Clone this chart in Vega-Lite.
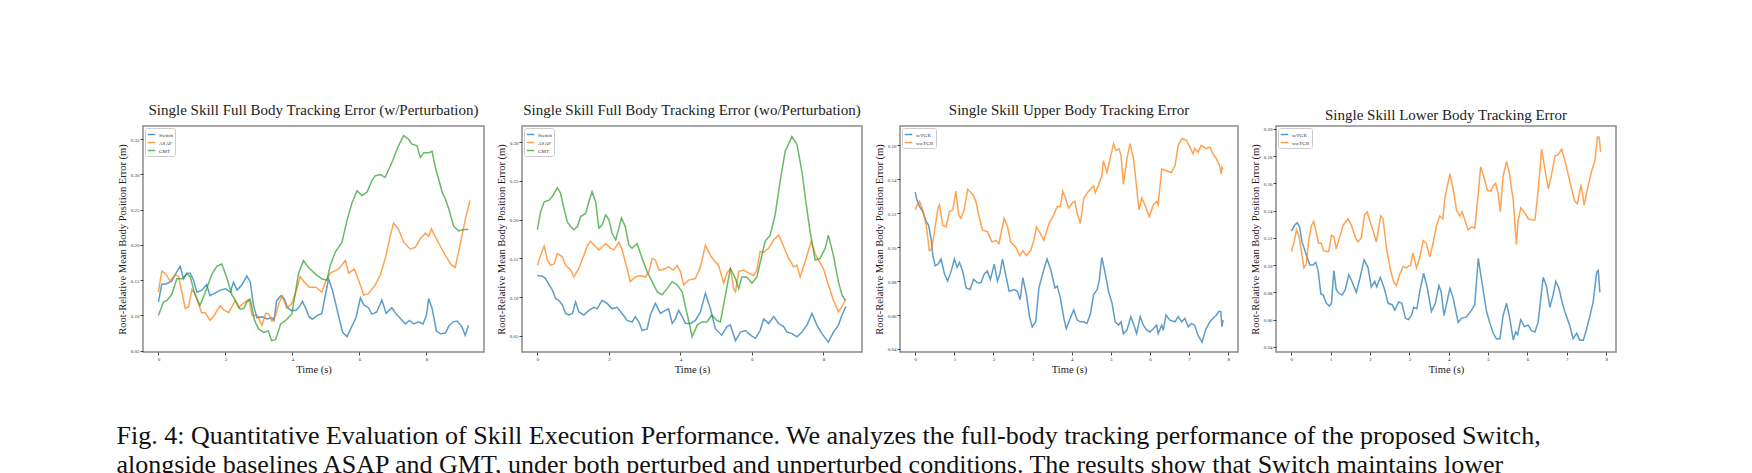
{
  "$schema": "https://vega.github.io/schema/vega-lite/v6.json",
  "padding": {"left": 116, "top": 102, "right": 10, "bottom": 0},
  "bounds": "flush",
  "spacing": 38,
  "resolve": {"scale": {"color": "independent", "x": "independent", "y": "independent"}, "legend": {"color": "independent"}},
  "title": {
    "text": [
      "Fig. 4: Quantitative Evaluation of Skill Execution Performance. We analyzes the full-body tracking performance of the proposed Switch,",
      "alongside baselines ASAP and GMT, under both perturbed and unperturbed conditions. The results show that Switch maintains lower"
    ],
    "orient": "bottom",
    "anchor": "start",
    "frame": "bounds",
    "offset": 48,
    "font": "Liberation Serif",
    "fontSize": 26,
    "lineHeight": 29,
    "fontWeight": "normal",
    "color": "#111111"
  },
  "config": {
    "view": {"stroke": "#8a8a8a", "strokeWidth": 1.5},
    "axis": {
      "domain": false, "grid": false, "ticks": true, "tickSize": 3, "tickColor": "#444444",
      "labelFont": "Liberation Serif", "labelFontSize": 5, "labelColor": "#333333", "labelPadding": 1,
      "titleFont": "Liberation Serif", "titleFontSize": 10.5, "titleFontWeight": "normal", "titleColor": "#222222", "titlePadding": 3
    },
    "title": {"font": "Liberation Serif", "fontSize": 15, "fontWeight": "normal", "color": "#222222", "offset": 8},
    "legend": {
      "orient": "top-left", "offset": 2, "title": null, "labelFont": "Liberation Serif", "labelFontSize": 5,
      "labelColor": "#333333", "symbolType": "stroke", "symbolSize": 56, "symbolStrokeWidth": 1.5,
      "symbolOpacity": 0.75, "strokeColor": "#cccccc", "fillColor": "#ffffff", "padding": 2, "rowPadding": 0,
      "labelOffset": 3, "cornerRadius": 2
    },
    "line": {"strokeWidth": 1.5, "opacity": 0.72}
  },
  "datasets": {
    "p1": [
      {"time":0,"error":0.119,"method":"Switch"},{"time":0.1,"error":0.144,"method":"Switch"},{"time":0.25,"error":0.145,"method":"Switch"},{"time":0.4,"error":0.149,"method":"Switch"},{"time":0.5,"error":0.158,"method":"Switch"},{"time":0.65,"error":0.17,"method":"Switch"},{"time":0.75,"error":0.152,"method":"Switch"},{"time":0.85,"error":0.16,"method":"Switch"},{"time":0.95,"error":0.16,"method":"Switch"},{"time":1.05,"error":0.15,"method":"Switch"},{"time":1.15,"error":0.133,"method":"Switch"},{"time":1.3,"error":0.136,"method":"Switch"},{"time":1.44,"error":0.144,"method":"Switch"},{"time":1.54,"error":0.128,"method":"Switch"},{"time":1.7,"error":0.132,"method":"Switch"},{"time":1.85,"error":0.136,"method":"Switch"},{"time":2.0,"error":0.138,"method":"Switch"},{"time":2.15,"error":0.133,"method":"Switch"},{"time":2.24,"error":0.147,"method":"Switch"},{"time":2.35,"error":0.136,"method":"Switch"},{"time":2.5,"error":0.144,"method":"Switch"},{"time":2.64,"error":0.156,"method":"Switch"},{"time":2.74,"error":0.148,"method":"Switch"},{"time":2.84,"error":0.114,"method":"Switch"},{"time":2.94,"error":0.097,"method":"Switch"},{"time":3.1,"error":0.098,"method":"Switch"},{"time":3.25,"error":0.095,"method":"Switch"},{"time":3.38,"error":0.097,"method":"Switch"},{"time":3.45,"error":0.093,"method":"Switch"},{"time":3.53,"error":0.121,"method":"Switch"},{"time":3.65,"error":0.128,"method":"Switch"},{"time":3.75,"error":0.124,"method":"Switch"},{"time":3.85,"error":0.112,"method":"Switch"},{"time":3.95,"error":0.107,"method":"Switch"},{"time":4.1,"error":0.107,"method":"Switch"},{"time":4.2,"error":0.112,"method":"Switch"},{"time":4.3,"error":0.12,"method":"Switch"},{"time":4.4,"error":0.11,"method":"Switch"},{"time":4.5,"error":0.098,"method":"Switch"},{"time":4.6,"error":0.095,"method":"Switch"},{"time":4.75,"error":0.1,"method":"Switch"},{"time":4.88,"error":0.103,"method":"Switch"},{"time":4.98,"error":0.128,"method":"Switch"},{"time":5.08,"error":0.152,"method":"Switch"},{"time":5.2,"error":0.135,"method":"Switch"},{"time":5.3,"error":0.115,"method":"Switch"},{"time":5.4,"error":0.095,"method":"Switch"},{"time":5.5,"error":0.076,"method":"Switch"},{"time":5.63,"error":0.07,"method":"Switch"},{"time":5.75,"error":0.082,"method":"Switch"},{"time":5.9,"error":0.097,"method":"Switch"},{"time":6.03,"error":0.125,"method":"Switch"},{"time":6.13,"error":0.115,"method":"Switch"},{"time":6.27,"error":0.111,"method":"Switch"},{"time":6.37,"error":0.102,"method":"Switch"},{"time":6.52,"error":0.105,"method":"Switch"},{"time":6.67,"error":0.122,"method":"Switch"},{"time":6.8,"error":0.103,"method":"Switch"},{"time":6.97,"error":0.111,"method":"Switch"},{"time":7.1,"error":0.102,"method":"Switch"},{"time":7.22,"error":0.096,"method":"Switch"},{"time":7.37,"error":0.088,"method":"Switch"},{"time":7.5,"error":0.093,"method":"Switch"},{"time":7.62,"error":0.088,"method":"Switch"},{"time":7.77,"error":0.091,"method":"Switch"},{"time":7.9,"error":0.088,"method":"Switch"},{"time":8.0,"error":0.1,"method":"Switch"},{"time":8.07,"error":0.124,"method":"Switch"},{"time":8.17,"error":0.11,"method":"Switch"},{"time":8.3,"error":0.078,"method":"Switch"},{"time":8.42,"error":0.074,"method":"Switch"},{"time":8.57,"error":0.075,"method":"Switch"},{"time":8.67,"error":0.085,"method":"Switch"},{"time":8.8,"error":0.091,"method":"Switch"},{"time":8.92,"error":0.092,"method":"Switch"},{"time":9.06,"error":0.084,"method":"Switch"},{"time":9.16,"error":0.072,"method":"Switch"},{"time":9.26,"error":0.086,"method":"Switch"},
      {"time":0,"error":0.133,"method":"ASAP"},{"time":0.1,"error":0.163,"method":"ASAP"},{"time":0.2,"error":0.16,"method":"ASAP"},{"time":0.35,"error":0.149,"method":"ASAP"},{"time":0.5,"error":0.158,"method":"ASAP"},{"time":0.6,"error":0.156,"method":"ASAP"},{"time":0.7,"error":0.133,"method":"ASAP"},{"time":0.8,"error":0.11,"method":"ASAP"},{"time":0.9,"error":0.112,"method":"ASAP"},{"time":1.0,"error":0.137,"method":"ASAP"},{"time":1.1,"error":0.13,"method":"ASAP"},{"time":1.29,"error":0.104,"method":"ASAP"},{"time":1.4,"error":0.104,"method":"ASAP"},{"time":1.54,"error":0.093,"method":"ASAP"},{"time":1.65,"error":0.099,"method":"ASAP"},{"time":1.84,"error":0.114,"method":"ASAP"},{"time":1.95,"error":0.108,"method":"ASAP"},{"time":2.1,"error":0.104,"method":"ASAP"},{"time":2.29,"error":0.121,"method":"ASAP"},{"time":2.4,"error":0.111,"method":"ASAP"},{"time":2.55,"error":0.118,"method":"ASAP"},{"time":2.7,"error":0.123,"method":"ASAP"},{"time":2.8,"error":0.1,"method":"ASAP"},{"time":2.95,"error":0.1,"method":"ASAP"},{"time":3.09,"error":0.086,"method":"ASAP"},{"time":3.2,"error":0.103,"method":"ASAP"},{"time":3.3,"error":0.102,"method":"ASAP"},{"time":3.39,"error":0.092,"method":"ASAP"},{"time":3.5,"error":0.1,"method":"ASAP"},{"time":3.6,"error":0.118,"method":"ASAP"},{"time":3.7,"error":0.128,"method":"ASAP"},{"time":3.83,"error":0.11,"method":"ASAP"},{"time":3.98,"error":0.117,"method":"ASAP"},{"time":4.1,"error":0.133,"method":"ASAP"},{"time":4.23,"error":0.155,"method":"ASAP"},{"time":4.35,"error":0.148,"method":"ASAP"},{"time":4.5,"error":0.14,"method":"ASAP"},{"time":4.7,"error":0.14,"method":"ASAP"},{"time":4.88,"error":0.133,"method":"ASAP"},{"time":4.98,"error":0.147,"method":"ASAP"},{"time":5.13,"error":0.16,"method":"ASAP"},{"time":5.38,"error":0.166,"method":"ASAP"},{"time":5.58,"error":0.178,"method":"ASAP"},{"time":5.68,"error":0.16,"method":"ASAP"},{"time":5.85,"error":0.166,"method":"ASAP"},{"time":6.03,"error":0.143,"method":"ASAP"},{"time":6.13,"error":0.129,"method":"ASAP"},{"time":6.27,"error":0.131,"method":"ASAP"},{"time":6.47,"error":0.143,"method":"ASAP"},{"time":6.62,"error":0.157,"method":"ASAP"},{"time":6.77,"error":0.18,"method":"ASAP"},{"time":6.92,"error":0.213,"method":"ASAP"},{"time":7.02,"error":0.231,"method":"ASAP"},{"time":7.17,"error":0.222,"method":"ASAP"},{"time":7.32,"error":0.204,"method":"ASAP"},{"time":7.52,"error":0.194,"method":"ASAP"},{"time":7.67,"error":0.197,"method":"ASAP"},{"time":7.82,"error":0.209,"method":"ASAP"},{"time":7.97,"error":0.217,"method":"ASAP"},{"time":8.07,"error":0.212,"method":"ASAP"},{"time":8.15,"error":0.223,"method":"ASAP"},{"time":8.25,"error":0.213,"method":"ASAP"},{"time":8.4,"error":0.2,"method":"ASAP"},{"time":8.57,"error":0.185,"method":"ASAP"},{"time":8.76,"error":0.171,"method":"ASAP"},{"time":8.86,"error":0.168,"method":"ASAP"},{"time":8.96,"error":0.19,"method":"ASAP"},{"time":9.06,"error":0.213,"method":"ASAP"},{"time":9.18,"error":0.24,"method":"ASAP"},{"time":9.3,"error":0.263,"method":"ASAP"},
      {"time":0,"error":0.1,"method":"GMT"},{"time":0.15,"error":0.119,"method":"GMT"},{"time":0.25,"error":0.121,"method":"GMT"},{"time":0.4,"error":0.13,"method":"GMT"},{"time":0.55,"error":0.152,"method":"GMT"},{"time":0.7,"error":0.152,"method":"GMT"},{"time":0.85,"error":0.159,"method":"GMT"},{"time":0.95,"error":0.155,"method":"GMT"},{"time":1.09,"error":0.13,"method":"GMT"},{"time":1.24,"error":0.114,"method":"GMT"},{"time":1.4,"error":0.133,"method":"GMT"},{"time":1.6,"error":0.159,"method":"GMT"},{"time":1.75,"error":0.17,"method":"GMT"},{"time":1.89,"error":0.173,"method":"GMT"},{"time":2.04,"error":0.154,"method":"GMT"},{"time":2.19,"error":0.13,"method":"GMT"},{"time":2.3,"error":0.121,"method":"GMT"},{"time":2.44,"error":0.109,"method":"GMT"},{"time":2.55,"error":0.11,"method":"GMT"},{"time":2.64,"error":0.119,"method":"GMT"},{"time":2.74,"error":0.123,"method":"GMT"},{"time":2.87,"error":0.093,"method":"GMT"},{"time":2.99,"error":0.081,"method":"GMT"},{"time":3.14,"error":0.076,"method":"GMT"},{"time":3.28,"error":0.078,"method":"GMT"},{"time":3.38,"error":0.064,"method":"GMT"},{"time":3.5,"error":0.066,"method":"GMT"},{"time":3.65,"error":0.088,"method":"GMT"},{"time":3.8,"error":0.093,"method":"GMT"},{"time":3.98,"error":0.102,"method":"GMT"},{"time":4.08,"error":0.13,"method":"GMT"},{"time":4.18,"error":0.159,"method":"GMT"},{"time":4.33,"error":0.178,"method":"GMT"},{"time":4.48,"error":0.168,"method":"GMT"},{"time":4.68,"error":0.159,"method":"GMT"},{"time":4.88,"error":0.152,"method":"GMT"},{"time":5.03,"error":0.15,"method":"GMT"},{"time":5.13,"error":0.171,"method":"GMT"},{"time":5.28,"error":0.19,"method":"GMT"},{"time":5.48,"error":0.204,"method":"GMT"},{"time":5.63,"error":0.235,"method":"GMT"},{"time":5.78,"error":0.26,"method":"GMT"},{"time":5.93,"error":0.277,"method":"GMT"},{"time":6.08,"error":0.27,"method":"GMT"},{"time":6.23,"error":0.275,"method":"GMT"},{"time":6.37,"error":0.291,"method":"GMT"},{"time":6.47,"error":0.298,"method":"GMT"},{"time":6.62,"error":0.3,"method":"GMT"},{"time":6.77,"error":0.296,"method":"GMT"},{"time":6.97,"error":0.317,"method":"GMT"},{"time":7.17,"error":0.341,"method":"GMT"},{"time":7.32,"error":0.355,"method":"GMT"},{"time":7.47,"error":0.35,"method":"GMT"},{"time":7.57,"error":0.343,"method":"GMT"},{"time":7.72,"error":0.341,"method":"GMT"},{"time":7.82,"error":0.324,"method":"GMT"},{"time":7.92,"error":0.331,"method":"GMT"},{"time":8.07,"error":0.331,"method":"GMT"},{"time":8.17,"error":0.333,"method":"GMT"},{"time":8.27,"error":0.31,"method":"GMT"},{"time":8.37,"error":0.293,"method":"GMT"},{"time":8.47,"error":0.275,"method":"GMT"},{"time":8.57,"error":0.265,"method":"GMT"},{"time":8.67,"error":0.251,"method":"GMT"},{"time":8.81,"error":0.227,"method":"GMT"},{"time":8.96,"error":0.22,"method":"GMT"},{"time":9.11,"error":0.222,"method":"GMT"},{"time":9.26,"error":0.222,"method":"GMT"}
    ],
    "p2": [
      {"time":0,"error":0.128,"method":"Switch"},{"time":0.14,"error":0.127,"method":"Switch"},{"time":0.23,"error":0.124,"method":"Switch"},{"time":0.33,"error":0.116,"method":"Switch"},{"time":0.42,"error":0.109,"method":"Switch"},{"time":0.51,"error":0.098,"method":"Switch"},{"time":0.6,"error":0.096,"method":"Switch"},{"time":0.7,"error":0.09,"method":"Switch"},{"time":0.79,"error":0.079,"method":"Switch"},{"time":0.88,"error":0.077,"method":"Switch"},{"time":0.98,"error":0.079,"method":"Switch"},{"time":1.07,"error":0.094,"method":"Switch"},{"time":1.16,"error":0.081,"method":"Switch"},{"time":1.3,"error":0.077,"method":"Switch"},{"time":1.44,"error":0.083,"method":"Switch"},{"time":1.58,"error":0.087,"method":"Switch"},{"time":1.67,"error":0.085,"method":"Switch"},{"time":1.81,"error":0.096,"method":"Switch"},{"time":1.95,"error":0.092,"method":"Switch"},{"time":2.09,"error":0.085,"method":"Switch"},{"time":2.23,"error":0.087,"method":"Switch"},{"time":2.37,"error":0.079,"method":"Switch"},{"time":2.51,"error":0.07,"method":"Switch"},{"time":2.65,"error":0.068,"method":"Switch"},{"time":2.74,"error":0.075,"method":"Switch"},{"time":2.84,"error":0.068,"method":"Switch"},{"time":2.93,"error":0.057,"method":"Switch"},{"time":3.07,"error":0.059,"method":"Switch"},{"time":3.16,"error":0.077,"method":"Switch"},{"time":3.3,"error":0.092,"method":"Switch"},{"time":3.44,"error":0.079,"method":"Switch"},{"time":3.58,"error":0.083,"method":"Switch"},{"time":3.67,"error":0.085,"method":"Switch"},{"time":3.77,"error":0.066,"method":"Switch"},{"time":3.86,"error":0.072,"method":"Switch"},{"time":3.95,"error":0.083,"method":"Switch"},{"time":4.05,"error":0.075,"method":"Switch"},{"time":4.14,"error":0.066,"method":"Switch"},{"time":4.28,"error":0.066,"method":"Switch"},{"time":4.42,"error":0.07,"method":"Switch"},{"time":4.56,"error":0.081,"method":"Switch"},{"time":4.7,"error":0.105,"method":"Switch"},{"time":4.84,"error":0.085,"method":"Switch"},{"time":4.98,"error":0.059,"method":"Switch"},{"time":5.16,"error":0.051,"method":"Switch"},{"time":5.3,"error":0.062,"method":"Switch"},{"time":5.4,"error":0.064,"method":"Switch"},{"time":5.54,"error":0.044,"method":"Switch"},{"time":5.68,"error":0.055,"method":"Switch"},{"time":5.82,"error":0.057,"method":"Switch"},{"time":5.96,"error":0.051,"method":"Switch"},{"time":6.1,"error":0.047,"method":"Switch"},{"time":6.23,"error":0.057,"method":"Switch"},{"time":6.33,"error":0.072,"method":"Switch"},{"time":6.47,"error":0.066,"method":"Switch"},{"time":6.61,"error":0.075,"method":"Switch"},{"time":6.75,"error":0.066,"method":"Switch"},{"time":6.89,"error":0.062,"method":"Switch"},{"time":6.98,"error":0.055,"method":"Switch"},{"time":7.12,"error":0.053,"method":"Switch"},{"time":7.26,"error":0.049,"method":"Switch"},{"time":7.4,"error":0.055,"method":"Switch"},{"time":7.54,"error":0.064,"method":"Switch"},{"time":7.68,"error":0.079,"method":"Switch"},{"time":7.82,"error":0.064,"method":"Switch"},{"time":7.96,"error":0.053,"method":"Switch"},{"time":8.14,"error":0.042,"method":"Switch"},{"time":8.28,"error":0.055,"method":"Switch"},{"time":8.42,"error":0.064,"method":"Switch"},{"time":8.52,"error":0.077,"method":"Switch"},{"time":8.63,"error":0.088,"method":"Switch"},
      {"time":0,"error":0.141,"method":"ASAP"},{"time":0.09,"error":0.154,"method":"ASAP"},{"time":0.19,"error":0.166,"method":"ASAP"},{"time":0.28,"error":0.148,"method":"ASAP"},{"time":0.37,"error":0.141,"method":"ASAP"},{"time":0.47,"error":0.143,"method":"ASAP"},{"time":0.56,"error":0.156,"method":"ASAP"},{"time":0.7,"error":0.152,"method":"ASAP"},{"time":0.79,"error":0.141,"method":"ASAP"},{"time":0.93,"error":0.135,"method":"ASAP"},{"time":1.02,"error":0.126,"method":"ASAP"},{"time":1.16,"error":0.137,"method":"ASAP"},{"time":1.3,"error":0.154,"method":"ASAP"},{"time":1.4,"error":0.167,"method":"ASAP"},{"time":1.49,"error":0.172,"method":"ASAP"},{"time":1.63,"error":0.165,"method":"ASAP"},{"time":1.72,"error":0.161,"method":"ASAP"},{"time":1.86,"error":0.167,"method":"ASAP"},{"time":1.91,"error":0.169,"method":"ASAP"},{"time":2.05,"error":0.163,"method":"ASAP"},{"time":2.14,"error":0.161,"method":"ASAP"},{"time":2.28,"error":0.171,"method":"ASAP"},{"time":2.37,"error":0.161,"method":"ASAP"},{"time":2.51,"error":0.137,"method":"ASAP"},{"time":2.6,"error":0.12,"method":"ASAP"},{"time":2.74,"error":0.126,"method":"ASAP"},{"time":2.88,"error":0.128,"method":"ASAP"},{"time":3.02,"error":0.126,"method":"ASAP"},{"time":3.12,"error":0.133,"method":"ASAP"},{"time":3.21,"error":0.15,"method":"ASAP"},{"time":3.3,"error":0.148,"method":"ASAP"},{"time":3.4,"error":0.135,"method":"ASAP"},{"time":3.49,"error":0.135,"method":"ASAP"},{"time":3.58,"error":0.137,"method":"ASAP"},{"time":3.67,"error":0.139,"method":"ASAP"},{"time":3.81,"error":0.135,"method":"ASAP"},{"time":3.91,"error":0.141,"method":"ASAP"},{"time":4.0,"error":0.133,"method":"ASAP"},{"time":4.09,"error":0.116,"method":"ASAP"},{"time":4.23,"error":0.122,"method":"ASAP"},{"time":4.42,"error":0.124,"method":"ASAP"},{"time":4.56,"error":0.139,"method":"ASAP"},{"time":4.7,"error":0.167,"method":"ASAP"},{"time":4.84,"error":0.154,"method":"ASAP"},{"time":4.93,"error":0.148,"method":"ASAP"},{"time":5.07,"error":0.141,"method":"ASAP"},{"time":5.21,"error":0.118,"method":"ASAP"},{"time":5.3,"error":0.131,"method":"ASAP"},{"time":5.4,"error":0.137,"method":"ASAP"},{"time":5.49,"error":0.111,"method":"ASAP"},{"time":5.54,"error":0.107,"method":"ASAP"},{"time":5.63,"error":0.133,"method":"ASAP"},{"time":5.77,"error":0.135,"method":"ASAP"},{"time":5.91,"error":0.131,"method":"ASAP"},{"time":6.05,"error":0.128,"method":"ASAP"},{"time":6.14,"error":0.135,"method":"ASAP"},{"time":6.23,"error":0.159,"method":"ASAP"},{"time":6.33,"error":0.158,"method":"ASAP"},{"time":6.47,"error":0.163,"method":"ASAP"},{"time":6.61,"error":0.174,"method":"ASAP"},{"time":6.75,"error":0.18,"method":"ASAP"},{"time":6.89,"error":0.165,"method":"ASAP"},{"time":7.03,"error":0.15,"method":"ASAP"},{"time":7.17,"error":0.139,"method":"ASAP"},{"time":7.26,"error":0.141,"method":"ASAP"},{"time":7.35,"error":0.126,"method":"ASAP"},{"time":7.49,"error":0.146,"method":"ASAP"},{"time":7.66,"error":0.172,"method":"ASAP"},{"time":7.77,"error":0.156,"method":"ASAP"},{"time":7.86,"error":0.148,"method":"ASAP"},{"time":8.0,"error":0.137,"method":"ASAP"},{"time":8.14,"error":0.116,"method":"ASAP"},{"time":8.28,"error":0.096,"method":"ASAP"},{"time":8.42,"error":0.081,"method":"ASAP"},{"time":8.52,"error":0.088,"method":"ASAP"},{"time":8.63,"error":0.098,"method":"ASAP"},
      {"time":0,"error":0.187,"method":"GMT"},{"time":0.09,"error":0.21,"method":"GMT"},{"time":0.19,"error":0.223,"method":"GMT"},{"time":0.33,"error":0.225,"method":"GMT"},{"time":0.42,"error":0.23,"method":"GMT"},{"time":0.56,"error":0.241,"method":"GMT"},{"time":0.65,"error":0.234,"method":"GMT"},{"time":0.74,"error":0.215,"method":"GMT"},{"time":0.84,"error":0.197,"method":"GMT"},{"time":0.93,"error":0.191,"method":"GMT"},{"time":1.02,"error":0.187,"method":"GMT"},{"time":1.12,"error":0.191,"method":"GMT"},{"time":1.21,"error":0.204,"method":"GMT"},{"time":1.35,"error":0.208,"method":"GMT"},{"time":1.44,"error":0.223,"method":"GMT"},{"time":1.53,"error":0.236,"method":"GMT"},{"time":1.63,"error":0.223,"method":"GMT"},{"time":1.72,"error":0.189,"method":"GMT"},{"time":1.81,"error":0.193,"method":"GMT"},{"time":1.91,"error":0.206,"method":"GMT"},{"time":2.0,"error":0.2,"method":"GMT"},{"time":2.09,"error":0.182,"method":"GMT"},{"time":2.19,"error":0.174,"method":"GMT"},{"time":2.28,"error":0.189,"method":"GMT"},{"time":2.35,"error":0.202,"method":"GMT"},{"time":2.46,"error":0.191,"method":"GMT"},{"time":2.56,"error":0.167,"method":"GMT"},{"time":2.65,"error":0.163,"method":"GMT"},{"time":2.79,"error":0.169,"method":"GMT"},{"time":2.93,"error":0.15,"method":"GMT"},{"time":3.07,"error":0.133,"method":"GMT"},{"time":3.21,"error":0.12,"method":"GMT"},{"time":3.35,"error":0.107,"method":"GMT"},{"time":3.49,"error":0.103,"method":"GMT"},{"time":3.63,"error":0.111,"method":"GMT"},{"time":3.77,"error":0.12,"method":"GMT"},{"time":3.91,"error":0.116,"method":"GMT"},{"time":4.05,"error":0.107,"method":"GMT"},{"time":4.14,"error":0.088,"method":"GMT"},{"time":4.24,"error":0.068,"method":"GMT"},{"time":4.33,"error":0.049,"method":"GMT"},{"time":4.47,"error":0.064,"method":"GMT"},{"time":4.6,"error":0.068,"method":"GMT"},{"time":4.74,"error":0.068,"method":"GMT"},{"time":4.88,"error":0.077,"method":"GMT"},{"time":5.02,"error":0.07,"method":"GMT"},{"time":5.12,"error":0.068,"method":"GMT"},{"time":5.26,"error":0.103,"method":"GMT"},{"time":5.4,"error":0.137,"method":"GMT"},{"time":5.54,"error":0.124,"method":"GMT"},{"time":5.63,"error":0.111,"method":"GMT"},{"time":5.72,"error":0.126,"method":"GMT"},{"time":5.86,"error":0.126,"method":"GMT"},{"time":6.0,"error":0.118,"method":"GMT"},{"time":6.14,"error":0.126,"method":"GMT"},{"time":6.28,"error":0.154,"method":"GMT"},{"time":6.37,"error":0.172,"method":"GMT"},{"time":6.51,"error":0.18,"method":"GMT"},{"time":6.65,"error":0.206,"method":"GMT"},{"time":6.79,"error":0.249,"method":"GMT"},{"time":6.93,"error":0.288,"method":"GMT"},{"time":7.12,"error":0.307,"method":"GMT"},{"time":7.26,"error":0.297,"method":"GMT"},{"time":7.4,"error":0.262,"method":"GMT"},{"time":7.51,"error":0.223,"method":"GMT"},{"time":7.63,"error":0.184,"method":"GMT"},{"time":7.77,"error":0.148,"method":"GMT"},{"time":7.91,"error":0.15,"method":"GMT"},{"time":8.05,"error":0.163,"method":"GMT"},{"time":8.14,"error":0.18,"method":"GMT"},{"time":8.28,"error":0.154,"method":"GMT"},{"time":8.42,"error":0.12,"method":"GMT"},{"time":8.52,"error":0.103,"method":"GMT"},{"time":8.61,"error":0.096,"method":"GMT"}
    ],
    "p3": [
      {"time":0,"error":0.1324,"method":"w/FGR"},{"time":0.04,"error":0.128,"method":"w/FGR"},{"time":0.11,"error":0.124,"method":"w/FGR"},{"time":0.19,"error":0.121,"method":"w/FGR"},{"time":0.28,"error":0.115,"method":"w/FGR"},{"time":0.34,"error":0.113,"method":"w/FGR"},{"time":0.41,"error":0.104,"method":"w/FGR"},{"time":0.45,"error":0.095,"method":"w/FGR"},{"time":0.51,"error":0.089,"method":"w/FGR"},{"time":0.58,"error":0.09,"method":"w/FGR"},{"time":0.66,"error":0.093,"method":"w/FGR"},{"time":0.75,"error":0.084,"method":"w/FGR"},{"time":0.83,"error":0.08,"method":"w/FGR"},{"time":0.92,"error":0.086,"method":"w/FGR"},{"time":1.0,"error":0.093,"method":"w/FGR"},{"time":1.07,"error":0.088,"method":"w/FGR"},{"time":1.13,"error":0.091,"method":"w/FGR"},{"time":1.21,"error":0.086,"method":"w/FGR"},{"time":1.3,"error":0.076,"method":"w/FGR"},{"time":1.4,"error":0.075,"method":"w/FGR"},{"time":1.49,"error":0.081,"method":"w/FGR"},{"time":1.59,"error":0.079,"method":"w/FGR"},{"time":1.68,"error":0.079,"method":"w/FGR"},{"time":1.76,"error":0.084,"method":"w/FGR"},{"time":1.84,"error":0.086,"method":"w/FGR"},{"time":1.92,"error":0.081,"method":"w/FGR"},{"time":2.02,"error":0.09,"method":"w/FGR"},{"time":2.1,"error":0.08,"method":"w/FGR"},{"time":2.16,"error":0.084,"method":"w/FGR"},{"time":2.23,"error":0.093,"method":"w/FGR"},{"time":2.31,"error":0.084,"method":"w/FGR"},{"time":2.4,"error":0.074,"method":"w/FGR"},{"time":2.53,"error":0.075,"method":"w/FGR"},{"time":2.61,"error":0.074,"method":"w/FGR"},{"time":2.68,"error":0.069,"method":"w/FGR"},{"time":2.75,"error":0.082,"method":"w/FGR"},{"time":2.84,"error":0.072,"method":"w/FGR"},{"time":2.92,"error":0.059,"method":"w/FGR"},{"time":2.99,"error":0.053,"method":"w/FGR"},{"time":3.08,"error":0.056,"method":"w/FGR"},{"time":3.16,"error":0.076,"method":"w/FGR"},{"time":3.29,"error":0.087,"method":"w/FGR"},{"time":3.37,"error":0.093,"method":"w/FGR"},{"time":3.46,"error":0.087,"method":"w/FGR"},{"time":3.57,"error":0.076,"method":"w/FGR"},{"time":3.63,"error":0.077,"method":"w/FGR"},{"time":3.71,"error":0.07,"method":"w/FGR"},{"time":3.8,"error":0.058,"method":"w/FGR"},{"time":3.86,"error":0.052,"method":"w/FGR"},{"time":3.96,"error":0.058,"method":"w/FGR"},{"time":4.05,"error":0.063,"method":"w/FGR"},{"time":4.14,"error":0.057,"method":"w/FGR"},{"time":4.22,"error":0.056,"method":"w/FGR"},{"time":4.31,"error":0.056,"method":"w/FGR"},{"time":4.39,"error":0.055,"method":"w/FGR"},{"time":4.48,"error":0.061,"method":"w/FGR"},{"time":4.56,"error":0.072,"method":"w/FGR"},{"time":4.65,"error":0.075,"method":"w/FGR"},{"time":4.7,"error":0.08,"method":"w/FGR"},{"time":4.77,"error":0.094,"method":"w/FGR"},{"time":4.86,"error":0.084,"method":"w/FGR"},{"time":4.94,"error":0.074,"method":"w/FGR"},{"time":5.03,"error":0.067,"method":"w/FGR"},{"time":5.11,"error":0.056,"method":"w/FGR"},{"time":5.2,"error":0.054,"method":"w/FGR"},{"time":5.26,"error":0.056,"method":"w/FGR"},{"time":5.32,"error":0.049,"method":"w/FGR"},{"time":5.41,"error":0.051,"method":"w/FGR"},{"time":5.51,"error":0.059,"method":"w/FGR"},{"time":5.59,"error":0.054,"method":"w/FGR"},{"time":5.66,"error":0.049,"method":"w/FGR"},{"time":5.75,"error":0.059,"method":"w/FGR"},{"time":5.83,"error":0.054,"method":"w/FGR"},{"time":5.92,"error":0.051,"method":"w/FGR"},{"time":6.0,"error":0.05,"method":"w/FGR"},{"time":6.09,"error":0.052,"method":"w/FGR"},{"time":6.17,"error":0.054,"method":"w/FGR"},{"time":6.21,"error":0.049,"method":"w/FGR"},{"time":6.3,"error":0.054,"method":"w/FGR"},{"time":6.34,"error":0.051,"method":"w/FGR"},{"time":6.41,"error":0.06,"method":"w/FGR"},{"time":6.51,"error":0.057,"method":"w/FGR"},{"time":6.64,"error":0.056,"method":"w/FGR"},{"time":6.72,"error":0.059,"method":"w/FGR"},{"time":6.81,"error":0.056,"method":"w/FGR"},{"time":6.89,"error":0.058,"method":"w/FGR"},{"time":6.98,"error":0.053,"method":"w/FGR"},{"time":7.06,"error":0.055,"method":"w/FGR"},{"time":7.14,"error":0.054,"method":"w/FGR"},{"time":7.23,"error":0.048,"method":"w/FGR"},{"time":7.33,"error":0.044,"method":"w/FGR"},{"time":7.42,"error":0.051,"method":"w/FGR"},{"time":7.53,"error":0.056,"method":"w/FGR"},{"time":7.61,"error":0.058,"method":"w/FGR"},{"time":7.7,"error":0.06,"method":"w/FGR"},{"time":7.76,"error":0.062,"method":"w/FGR"},{"time":7.81,"error":0.062,"method":"w/FGR"},{"time":7.84,"error":0.053,"method":"w/FGR"},{"time":7.87,"error":0.057,"method":"w/FGR"},
      {"time":0,"error":0.122,"method":"wo/FGR"},{"time":0.07,"error":0.126,"method":"wo/FGR"},{"time":0.11,"error":0.127,"method":"wo/FGR"},{"time":0.19,"error":0.122,"method":"wo/FGR"},{"time":0.28,"error":0.113,"method":"wo/FGR"},{"time":0.36,"error":0.098,"method":"wo/FGR"},{"time":0.42,"error":0.099,"method":"wo/FGR"},{"time":0.49,"error":0.109,"method":"wo/FGR"},{"time":0.58,"error":0.123,"method":"wo/FGR"},{"time":0.62,"error":0.125,"method":"wo/FGR"},{"time":0.7,"error":0.113,"method":"wo/FGR"},{"time":0.79,"error":0.112,"method":"wo/FGR"},{"time":0.87,"error":0.121,"method":"wo/FGR"},{"time":0.96,"error":0.122,"method":"wo/FGR"},{"time":1.04,"error":0.133,"method":"wo/FGR"},{"time":1.11,"error":0.119,"method":"wo/FGR"},{"time":1.17,"error":0.117,"method":"wo/FGR"},{"time":1.25,"error":0.122,"method":"wo/FGR"},{"time":1.34,"error":0.134,"method":"wo/FGR"},{"time":1.47,"error":0.131,"method":"wo/FGR"},{"time":1.55,"error":0.127,"method":"wo/FGR"},{"time":1.64,"error":0.117,"method":"wo/FGR"},{"time":1.72,"error":0.11,"method":"wo/FGR"},{"time":1.85,"error":0.109,"method":"wo/FGR"},{"time":1.96,"error":0.103,"method":"wo/FGR"},{"time":2.06,"error":0.104,"method":"wo/FGR"},{"time":2.14,"error":0.102,"method":"wo/FGR"},{"time":2.27,"error":0.117,"method":"wo/FGR"},{"time":2.36,"error":0.112,"method":"wo/FGR"},{"time":2.44,"error":0.103,"method":"wo/FGR"},{"time":2.57,"error":0.1,"method":"wo/FGR"},{"time":2.67,"error":0.095,"method":"wo/FGR"},{"time":2.75,"error":0.098,"method":"wo/FGR"},{"time":2.84,"error":0.095,"method":"wo/FGR"},{"time":2.95,"error":0.098,"method":"wo/FGR"},{"time":3.03,"error":0.104,"method":"wo/FGR"},{"time":3.1,"error":0.112,"method":"wo/FGR"},{"time":3.2,"error":0.108,"method":"wo/FGR"},{"time":3.29,"error":0.104,"method":"wo/FGR"},{"time":3.42,"error":0.114,"method":"wo/FGR"},{"time":3.54,"error":0.119,"method":"wo/FGR"},{"time":3.63,"error":0.124,"method":"wo/FGR"},{"time":3.71,"error":0.124,"method":"wo/FGR"},{"time":3.77,"error":0.133,"method":"wo/FGR"},{"time":3.84,"error":0.129,"method":"wo/FGR"},{"time":3.92,"error":0.123,"method":"wo/FGR"},{"time":4.01,"error":0.126,"method":"wo/FGR"},{"time":4.08,"error":0.127,"method":"wo/FGR"},{"time":4.14,"error":0.12,"method":"wo/FGR"},{"time":4.22,"error":0.114,"method":"wo/FGR"},{"time":4.31,"error":0.129,"method":"wo/FGR"},{"time":4.43,"error":0.133,"method":"wo/FGR"},{"time":4.56,"error":0.136,"method":"wo/FGR"},{"time":4.6,"error":0.132,"method":"wo/FGR"},{"time":4.69,"error":0.137,"method":"wo/FGR"},{"time":4.77,"error":0.142,"method":"wo/FGR"},{"time":4.81,"error":0.151,"method":"wo/FGR"},{"time":4.9,"error":0.144,"method":"wo/FGR"},{"time":4.98,"error":0.152,"method":"wo/FGR"},{"time":5.07,"error":0.161,"method":"wo/FGR"},{"time":5.13,"error":0.157,"method":"wo/FGR"},{"time":5.21,"error":0.158,"method":"wo/FGR"},{"time":5.26,"error":0.154,"method":"wo/FGR"},{"time":5.32,"error":0.137,"method":"wo/FGR"},{"time":5.41,"error":0.152,"method":"wo/FGR"},{"time":5.49,"error":0.161,"method":"wo/FGR"},{"time":5.58,"error":0.152,"method":"wo/FGR"},{"time":5.66,"error":0.135,"method":"wo/FGR"},{"time":5.72,"error":0.122,"method":"wo/FGR"},{"time":5.79,"error":0.129,"method":"wo/FGR"},{"time":5.87,"error":0.125,"method":"wo/FGR"},{"time":5.98,"error":0.118,"method":"wo/FGR"},{"time":6.09,"error":0.125,"method":"wo/FGR"},{"time":6.17,"error":0.127,"method":"wo/FGR"},{"time":6.21,"error":0.125,"method":"wo/FGR"},{"time":6.3,"error":0.146,"method":"wo/FGR"},{"time":6.42,"error":0.145,"method":"wo/FGR"},{"time":6.55,"error":0.144,"method":"wo/FGR"},{"time":6.64,"error":0.148,"method":"wo/FGR"},{"time":6.72,"error":0.16,"method":"wo/FGR"},{"time":6.82,"error":0.164,"method":"wo/FGR"},{"time":6.93,"error":0.163,"method":"wo/FGR"},{"time":7.02,"error":0.159,"method":"wo/FGR"},{"time":7.1,"error":0.155,"method":"wo/FGR"},{"time":7.14,"error":0.158,"method":"wo/FGR"},{"time":7.23,"error":0.156,"method":"wo/FGR"},{"time":7.31,"error":0.16,"method":"wo/FGR"},{"time":7.44,"error":0.158,"method":"wo/FGR"},{"time":7.53,"error":0.159,"method":"wo/FGR"},{"time":7.61,"error":0.155,"method":"wo/FGR"},{"time":7.7,"error":0.152,"method":"wo/FGR"},{"time":7.78,"error":0.148,"method":"wo/FGR"},{"time":7.82,"error":0.143,"method":"wo/FGR"},{"time":7.84,"error":0.147,"method":"wo/FGR"},{"time":7.87,"error":0.146,"method":"wo/FGR"}
    ],
    "p4": [
      {"time":0,"error":0.125,"method":"w/FGR"},{"time":0.08,"error":0.129,"method":"w/FGR"},{"time":0.15,"error":0.131,"method":"w/FGR"},{"time":0.21,"error":0.128,"method":"w/FGR"},{"time":0.27,"error":0.117,"method":"w/FGR"},{"time":0.34,"error":0.111,"method":"w/FGR"},{"time":0.41,"error":0.105,"method":"w/FGR"},{"time":0.47,"error":0.1,"method":"w/FGR"},{"time":0.55,"error":0.1,"method":"w/FGR"},{"time":0.62,"error":0.102,"method":"w/FGR"},{"time":0.68,"error":0.096,"method":"w/FGR"},{"time":0.75,"error":0.079,"method":"w/FGR"},{"time":0.81,"error":0.078,"method":"w/FGR"},{"time":0.89,"error":0.072,"method":"w/FGR"},{"time":0.97,"error":0.07,"method":"w/FGR"},{"time":1.02,"error":0.072,"method":"w/FGR"},{"time":1.08,"error":0.096,"method":"w/FGR"},{"time":1.14,"error":0.082,"method":"w/FGR"},{"time":1.22,"error":0.079,"method":"w/FGR"},{"time":1.29,"error":0.078,"method":"w/FGR"},{"time":1.37,"error":0.082,"method":"w/FGR"},{"time":1.46,"error":0.093,"method":"w/FGR"},{"time":1.54,"error":0.088,"method":"w/FGR"},{"time":1.65,"error":0.08,"method":"w/FGR"},{"time":1.74,"error":0.09,"method":"w/FGR"},{"time":1.85,"error":0.104,"method":"w/FGR"},{"time":1.95,"error":0.098,"method":"w/FGR"},{"time":2.03,"error":0.084,"method":"w/FGR"},{"time":2.12,"error":0.088,"method":"w/FGR"},{"time":2.17,"error":0.084,"method":"w/FGR"},{"time":2.26,"error":0.091,"method":"w/FGR"},{"time":2.36,"error":0.083,"method":"w/FGR"},{"time":2.46,"error":0.072,"method":"w/FGR"},{"time":2.56,"error":0.071,"method":"w/FGR"},{"time":2.63,"error":0.067,"method":"w/FGR"},{"time":2.73,"error":0.073,"method":"w/FGR"},{"time":2.81,"error":0.072,"method":"w/FGR"},{"time":2.9,"error":0.061,"method":"w/FGR"},{"time":2.97,"error":0.06,"method":"w/FGR"},{"time":3.05,"error":0.063,"method":"w/FGR"},{"time":3.11,"error":0.069,"method":"w/FGR"},{"time":3.19,"error":0.068,"method":"w/FGR"},{"time":3.26,"error":0.08,"method":"w/FGR"},{"time":3.36,"error":0.094,"method":"w/FGR"},{"time":3.45,"error":0.084,"method":"w/FGR"},{"time":3.56,"error":0.066,"method":"w/FGR"},{"time":3.66,"error":0.072,"method":"w/FGR"},{"time":3.75,"error":0.085,"method":"w/FGR"},{"time":3.81,"error":0.08,"method":"w/FGR"},{"time":3.88,"error":0.063,"method":"w/FGR"},{"time":3.94,"error":0.071,"method":"w/FGR"},{"time":4.03,"error":0.083,"method":"w/FGR"},{"time":4.11,"error":0.076,"method":"w/FGR"},{"time":4.24,"error":0.058,"method":"w/FGR"},{"time":4.32,"error":0.061,"method":"w/FGR"},{"time":4.45,"error":0.062,"method":"w/FGR"},{"time":4.58,"error":0.067,"method":"w/FGR"},{"time":4.66,"error":0.071,"method":"w/FGR"},{"time":4.75,"error":0.105,"method":"w/FGR"},{"time":4.83,"error":0.09,"method":"w/FGR"},{"time":4.96,"error":0.066,"method":"w/FGR"},{"time":5.04,"error":0.058,"method":"w/FGR"},{"time":5.13,"error":0.05,"method":"w/FGR"},{"time":5.21,"error":0.046,"method":"w/FGR"},{"time":5.3,"error":0.046,"method":"w/FGR"},{"time":5.38,"error":0.063,"method":"w/FGR"},{"time":5.47,"error":0.072,"method":"w/FGR"},{"time":5.55,"error":0.061,"method":"w/FGR"},{"time":5.64,"error":0.045,"method":"w/FGR"},{"time":5.7,"error":0.051,"method":"w/FGR"},{"time":5.75,"error":0.049,"method":"w/FGR"},{"time":5.83,"error":0.06,"method":"w/FGR"},{"time":5.92,"error":0.055,"method":"w/FGR"},{"time":6.02,"error":0.056,"method":"w/FGR"},{"time":6.1,"error":0.052,"method":"w/FGR"},{"time":6.19,"error":0.051,"method":"w/FGR"},{"time":6.27,"error":0.058,"method":"w/FGR"},{"time":6.4,"error":0.091,"method":"w/FGR"},{"time":6.48,"error":0.085,"method":"w/FGR"},{"time":6.57,"error":0.069,"method":"w/FGR"},{"time":6.65,"error":0.078,"method":"w/FGR"},{"time":6.72,"error":0.088,"method":"w/FGR"},{"time":6.8,"error":0.083,"method":"w/FGR"},{"time":6.88,"error":0.073,"method":"w/FGR"},{"time":6.95,"error":0.066,"method":"w/FGR"},{"time":7.08,"error":0.055,"method":"w/FGR"},{"time":7.16,"error":0.046,"method":"w/FGR"},{"time":7.25,"error":0.05,"method":"w/FGR"},{"time":7.33,"error":0.045,"method":"w/FGR"},{"time":7.42,"error":0.045,"method":"w/FGR"},{"time":7.5,"error":0.053,"method":"w/FGR"},{"time":7.59,"error":0.063,"method":"w/FGR"},{"time":7.67,"error":0.073,"method":"w/FGR"},{"time":7.76,"error":0.095,"method":"w/FGR"},{"time":7.8,"error":0.096,"method":"w/FGR"},{"time":7.84,"error":0.08,"method":"w/FGR"},
      {"time":0,"error":0.11,"method":"wo/FGR"},{"time":0.07,"error":0.117,"method":"wo/FGR"},{"time":0.13,"error":0.126,"method":"wo/FGR"},{"time":0.19,"error":0.122,"method":"wo/FGR"},{"time":0.25,"error":0.111,"method":"wo/FGR"},{"time":0.32,"error":0.098,"method":"wo/FGR"},{"time":0.38,"error":0.101,"method":"wo/FGR"},{"time":0.44,"error":0.118,"method":"wo/FGR"},{"time":0.51,"error":0.129,"method":"wo/FGR"},{"time":0.57,"error":0.132,"method":"wo/FGR"},{"time":0.64,"error":0.123,"method":"wo/FGR"},{"time":0.69,"error":0.116,"method":"wo/FGR"},{"time":0.76,"error":0.116,"method":"wo/FGR"},{"time":0.81,"error":0.111,"method":"wo/FGR"},{"time":0.86,"error":0.11,"method":"wo/FGR"},{"time":0.95,"error":0.11,"method":"wo/FGR"},{"time":1.02,"error":0.122,"method":"wo/FGR"},{"time":1.08,"error":0.121,"method":"wo/FGR"},{"time":1.14,"error":0.112,"method":"wo/FGR"},{"time":1.22,"error":0.12,"method":"wo/FGR"},{"time":1.31,"error":0.129,"method":"wo/FGR"},{"time":1.44,"error":0.134,"method":"wo/FGR"},{"time":1.53,"error":0.129,"method":"wo/FGR"},{"time":1.63,"error":0.12,"method":"wo/FGR"},{"time":1.69,"error":0.117,"method":"wo/FGR"},{"time":1.78,"error":0.12,"method":"wo/FGR"},{"time":1.86,"error":0.137,"method":"wo/FGR"},{"time":1.93,"error":0.139,"method":"wo/FGR"},{"time":2.0,"error":0.132,"method":"wo/FGR"},{"time":2.08,"error":0.125,"method":"wo/FGR"},{"time":2.16,"error":0.117,"method":"wo/FGR"},{"time":2.27,"error":0.136,"method":"wo/FGR"},{"time":2.33,"error":0.134,"method":"wo/FGR"},{"time":2.42,"error":0.112,"method":"wo/FGR"},{"time":2.53,"error":0.095,"method":"wo/FGR"},{"time":2.61,"error":0.087,"method":"wo/FGR"},{"time":2.67,"error":0.085,"method":"wo/FGR"},{"time":2.75,"error":0.093,"method":"wo/FGR"},{"time":2.84,"error":0.099,"method":"wo/FGR"},{"time":2.92,"error":0.098,"method":"wo/FGR"},{"time":3.03,"error":0.1,"method":"wo/FGR"},{"time":3.09,"error":0.109,"method":"wo/FGR"},{"time":3.18,"error":0.098,"method":"wo/FGR"},{"time":3.26,"error":0.105,"method":"wo/FGR"},{"time":3.35,"error":0.118,"method":"wo/FGR"},{"time":3.43,"error":0.116,"method":"wo/FGR"},{"time":3.52,"error":0.106,"method":"wo/FGR"},{"time":3.6,"error":0.116,"method":"wo/FGR"},{"time":3.69,"error":0.129,"method":"wo/FGR"},{"time":3.77,"error":0.136,"method":"wo/FGR"},{"time":3.85,"error":0.134,"method":"wo/FGR"},{"time":3.9,"error":0.149,"method":"wo/FGR"},{"time":4.03,"error":0.167,"method":"wo/FGR"},{"time":4.11,"error":0.156,"method":"wo/FGR"},{"time":4.2,"error":0.14,"method":"wo/FGR"},{"time":4.28,"error":0.136,"method":"wo/FGR"},{"time":4.34,"error":0.139,"method":"wo/FGR"},{"time":4.41,"error":0.133,"method":"wo/FGR"},{"time":4.49,"error":0.126,"method":"wo/FGR"},{"time":4.58,"error":0.128,"method":"wo/FGR"},{"time":4.66,"error":0.127,"method":"wo/FGR"},{"time":4.75,"error":0.152,"method":"wo/FGR"},{"time":4.81,"error":0.172,"method":"wo/FGR"},{"time":4.9,"error":0.164,"method":"wo/FGR"},{"time":4.98,"error":0.155,"method":"wo/FGR"},{"time":5.07,"error":0.154,"method":"wo/FGR"},{"time":5.13,"error":0.158,"method":"wo/FGR"},{"time":5.19,"error":0.16,"method":"wo/FGR"},{"time":5.26,"error":0.152,"method":"wo/FGR"},{"time":5.31,"error":0.139,"method":"wo/FGR"},{"time":5.38,"error":0.165,"method":"wo/FGR"},{"time":5.47,"error":0.176,"method":"wo/FGR"},{"time":5.55,"error":0.166,"method":"wo/FGR"},{"time":5.64,"error":0.147,"method":"wo/FGR"},{"time":5.72,"error":0.115,"method":"wo/FGR"},{"time":5.76,"error":0.132,"method":"wo/FGR"},{"time":5.83,"error":0.142,"method":"wo/FGR"},{"time":5.92,"error":0.139,"method":"wo/FGR"},{"time":6.02,"error":0.134,"method":"wo/FGR"},{"time":6.14,"error":0.133,"method":"wo/FGR"},{"time":6.19,"error":0.133,"method":"wo/FGR"},{"time":6.27,"error":0.154,"method":"wo/FGR"},{"time":6.36,"error":0.185,"method":"wo/FGR"},{"time":6.44,"error":0.171,"method":"wo/FGR"},{"time":6.53,"error":0.156,"method":"wo/FGR"},{"time":6.61,"error":0.166,"method":"wo/FGR"},{"time":6.7,"error":0.18,"method":"wo/FGR"},{"time":6.78,"error":0.181,"method":"wo/FGR"},{"time":6.87,"error":0.185,"method":"wo/FGR"},{"time":6.95,"error":0.177,"method":"wo/FGR"},{"time":7.04,"error":0.166,"method":"wo/FGR"},{"time":7.12,"error":0.156,"method":"wo/FGR"},{"time":7.2,"error":0.147,"method":"wo/FGR"},{"time":7.27,"error":0.145,"method":"wo/FGR"},{"time":7.36,"error":0.159,"method":"wo/FGR"},{"time":7.44,"error":0.144,"method":"wo/FGR"},{"time":7.54,"error":0.158,"method":"wo/FGR"},{"time":7.63,"error":0.169,"method":"wo/FGR"},{"time":7.71,"error":0.176,"method":"wo/FGR"},{"time":7.78,"error":0.194,"method":"wo/FGR"},{"time":7.82,"error":0.194,"method":"wo/FGR"},{"time":7.86,"error":0.183,"method":"wo/FGR"}
    ]
  },
  "hconcat": [
    {
      "width": 341, "height": 226,
      "title": "Single Skill Full Body Tracking Error (w/Perturbation)",
      "data": {"name": "p1"},
      "mark": {"type": "line"},
      "encoding": {
        "x": {"field": "time", "type": "quantitative", "scale": {"domain": [-0.46, 9.72], "nice": false, "zero": false},
              "axis": {"title": "Time (s)", "values": [0, 2, 4, 6, 8], "format": "d"}},
        "y": {"field": "error", "type": "quantitative", "scale": {"domain": [0.0482, 0.3688], "nice": false, "zero": false},
              "axis": {"title": "Root-Relative Mean Body Position Error (m)", "values": [0.05, 0.1, 0.15, 0.2, 0.25, 0.3, 0.35], "format": ".2f"}},
        "color": {"field": "method", "type": "nominal",
                  "scale": {"domain": ["Switch", "ASAP", "GMT"], "range": ["#1f77b4", "#ff7f0e", "#2ca02c"]}}
      }
    },
    {
      "width": 340, "height": 226,
      "title": "Single Skill Full Body Tracking Error (wo/Perturbation)",
      "data": {"name": "p2"},
      "mark": {"type": "line"},
      "encoding": {
        "x": {"field": "time", "type": "quantitative", "scale": {"domain": [-0.43, 9.08], "nice": false, "zero": false},
              "axis": {"title": "Time (s)", "values": [0, 2, 4, 6, 8], "format": "d"}},
        "y": {"field": "error", "type": "quantitative", "scale": {"domain": [0.0293, 0.3207], "nice": false, "zero": false},
              "axis": {"title": "Root-Relative Mean Body Position Error (m)", "values": [0.05, 0.1, 0.15, 0.2, 0.25, 0.3], "format": ".2f"}},
        "color": {"field": "method", "type": "nominal",
                  "scale": {"domain": ["Switch", "ASAP", "GMT"], "range": ["#1f77b4", "#ff7f0e", "#2ca02c"]}}
      }
    },
    {
      "width": 338, "height": 226,
      "title": "Single Skill Upper Body Tracking Error",
      "data": {"name": "p3"},
      "mark": {"type": "line"},
      "encoding": {
        "x": {"field": "time", "type": "quantitative", "scale": {"domain": [-0.39, 8.25], "nice": false, "zero": false},
              "axis": {"title": "Time (s)", "values": [0, 1, 2, 3, 4, 5, 6, 7, 8], "format": "d"}},
        "y": {"field": "error", "type": "quantitative", "scale": {"domain": [0.0382, 0.1714], "nice": false, "zero": false},
              "axis": {"title": "Root-Relative Mean Body Position Error (m)", "values": [0.04, 0.06, 0.08, 0.1, 0.12, 0.14, 0.16], "format": ".2f"}},
        "color": {"field": "method", "type": "nominal",
                  "scale": {"domain": ["w/FGR", "wo/FGR"], "range": ["#1f77b4", "#ff7f0e"]}}
      }
    },
    {
      "width": 340, "height": 226,
      "title": {"text": "Single Skill Lower Body Tracking Error", "offset": 3},
      "data": {"name": "p4"},
      "mark": {"type": "line"},
      "encoding": {
        "x": {"field": "time", "type": "quantitative", "scale": {"domain": [-0.39, 8.25], "nice": false, "zero": false},
              "axis": {"title": "Time (s)", "values": [0, 1, 2, 3, 4, 5, 6, 7, 8], "format": "d"}},
        "y": {"field": "error", "type": "quantitative", "scale": {"domain": [0.0363, 0.202], "nice": false, "zero": false},
              "axis": {"title": "Root-Relative Mean Body Position Error (m)", "values": [0.04, 0.06, 0.08, 0.1, 0.12, 0.14, 0.16, 0.18, 0.2], "format": ".2f"}},
        "color": {"field": "method", "type": "nominal",
                  "scale": {"domain": ["w/FGR", "wo/FGR"], "range": ["#1f77b4", "#ff7f0e"]}}
      }
    }
  ]
}
